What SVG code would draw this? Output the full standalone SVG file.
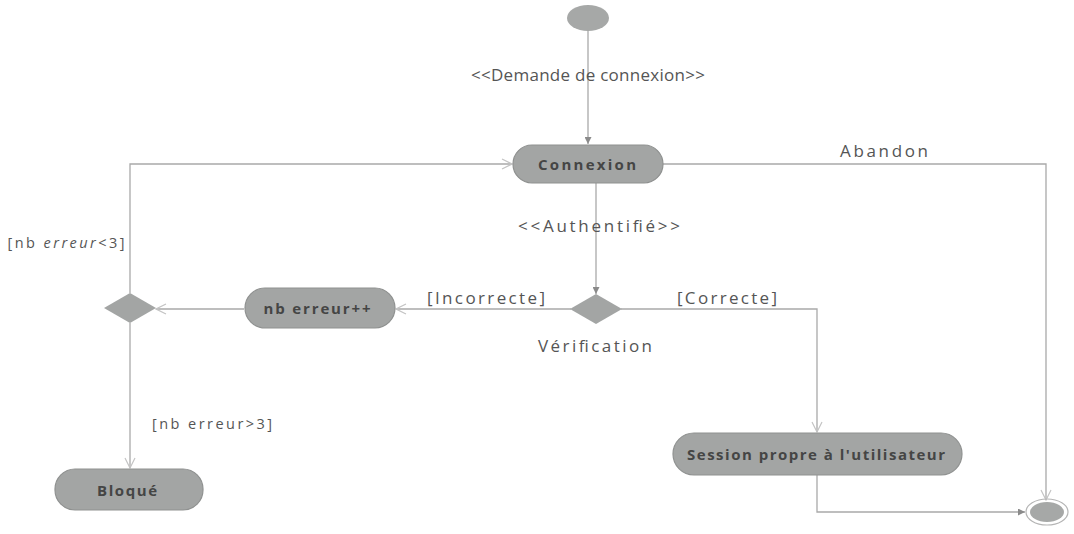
<svg xmlns="http://www.w3.org/2000/svg" width="1074" height="534" viewBox="0 0 1074 534">
  <style>
    .act { fill: #a3a5a4; stroke: #8f9190; stroke-width: 1.2; }
    .act-label { font-family: "Open Sans", "Liberation Sans", sans-serif; font-size: 15px; font-weight: 700; fill: #454545; text-anchor: middle; dominant-baseline: central; }
    .lbl { font-family: "Open Sans", "Liberation Sans", sans-serif; font-size: 17px; fill: #555; text-anchor: middle; dominant-baseline: central; }
    .guard { font-family: "Open Sans", "Liberation Sans", sans-serif; font-size: 14.5px; fill: #555; text-anchor: middle; dominant-baseline: central; }
    .flow { fill: none; stroke: #a9a9a9; stroke-width: 1.3; }
    .decision { fill: #a3a5a4; stroke: none; }
  </style>
  <defs>
    <marker id="arrow-solid" viewBox="0 0 10 10" refX="10" refY="5" markerWidth="7" markerHeight="7" orient="auto" markerUnits="userSpaceOnUse">
      <path d="M0,0 L10,5 L0,10 z" fill="#8a8a8a"/>
    </marker>
    <marker id="arrow-open" viewBox="0 0 12 12" refX="11" refY="6" markerWidth="12" markerHeight="12" orient="auto" markerUnits="userSpaceOnUse">
      <path d="M1,1 L11,6 L1,11" fill="none" stroke="#c4c4c4" stroke-width="1.2"/>
    </marker>
  </defs>

  <rect width="1074" height="534" fill="#ffffff"/>

  <!-- connectors -->
  <g id="connectors">
    <path class="flow" d="M588,31 L588,144" marker-end="url(#arrow-solid)"/>
    <path class="flow" d="M130,293 L130,164 L512,164" marker-end="url(#arrow-open)"/>
    <path class="flow" d="M663,164 L1046,164 L1046,500" marker-end="url(#arrow-open)"/>
    <path class="flow" d="M596,183 L596,294" marker-end="url(#arrow-solid)"/>
    <path class="flow" d="M571,309 L396,309" marker-end="url(#arrow-open)"/>
    <path class="flow" d="M244,309 L156,309" marker-end="url(#arrow-open)"/>
    <path class="flow" d="M130,323 L130,468" marker-end="url(#arrow-open)"/>
    <path class="flow" d="M621,309 L817,309 L817,432" marker-end="url(#arrow-open)"/>
    <path class="flow" d="M817,475 L817,512 L1025,512" marker-end="url(#arrow-solid)"/>

    <text class="lbl" x="588" y="74" textLength="234" lengthAdjust="spacing">&lt;&lt;Demande de connexion&gt;&gt;</text>
    <text class="lbl" x="884" y="150" textLength="88" lengthAdjust="spacing">Abandon</text>
    <text class="lbl" x="599" y="225" textLength="162" lengthAdjust="spacing">&lt;&lt;Authentifié&gt;&gt;</text>
    <text class="guard" x="66" y="242" textLength="117" lengthAdjust="spacing">[nb <tspan font-style="italic">erreur</tspan>&lt;3]</text>
    <text class="lbl" x="486" y="297" textLength="118" lengthAdjust="spacing">[Incorrecte]</text>
    <text class="lbl" x="727" y="297" textLength="100" lengthAdjust="spacing">[Correcte]</text>
    <text class="lbl" x="595" y="345" textLength="114" lengthAdjust="spacing">Vérification</text>
    <text class="guard" x="212" y="423" textLength="120" lengthAdjust="spacing">[nb erreur&gt;3]</text>
  </g>

  <!-- start -->
  <g id="start">
    <ellipse cx="588" cy="18" rx="21" ry="13" fill="#a6a8a7"/>
  </g>

  <g id="connexion">
    <rect class="act" x="513" y="145" width="150" height="38" rx="19"/>
    <text class="act-label" x="587" y="164" textLength="98" lengthAdjust="spacing">Connexion</text>
  </g>

  <g id="verification">
    <polygon class="decision" points="596,294 622,309 596,324 570,309"/>
  </g>

  <g id="nb-erreur">
    <rect class="act" x="245" y="288" width="150" height="40" rx="20"/>
    <text class="act-label" x="317" y="308" textLength="107" lengthAdjust="spacing">nb erreur++</text>
  </g>

  <g id="merge">
    <polygon class="decision" points="130,293 156,308 130,323 104,308"/>
  </g>

  <g id="bloque">
    <rect class="act" x="55" y="469" width="148" height="41" rx="20"/>
    <text class="act-label" x="127" y="489.5" textLength="60" lengthAdjust="spacing">Bloqué</text>
  </g>

  <g id="session">
    <rect class="act" x="673" y="433" width="289" height="42" rx="21"/>
    <text class="act-label" x="816" y="454" textLength="258" lengthAdjust="spacing">Session propre à l'utilisateur</text>
  </g>

  <!-- final -->
  <g id="end">
    <ellipse cx="1047" cy="512" rx="21" ry="13" fill="none" stroke="#b5b5b5" stroke-width="1.2"/>
    <ellipse cx="1047" cy="512" rx="17" ry="10" fill="#a6a8a7"/>
  </g>
</svg>
